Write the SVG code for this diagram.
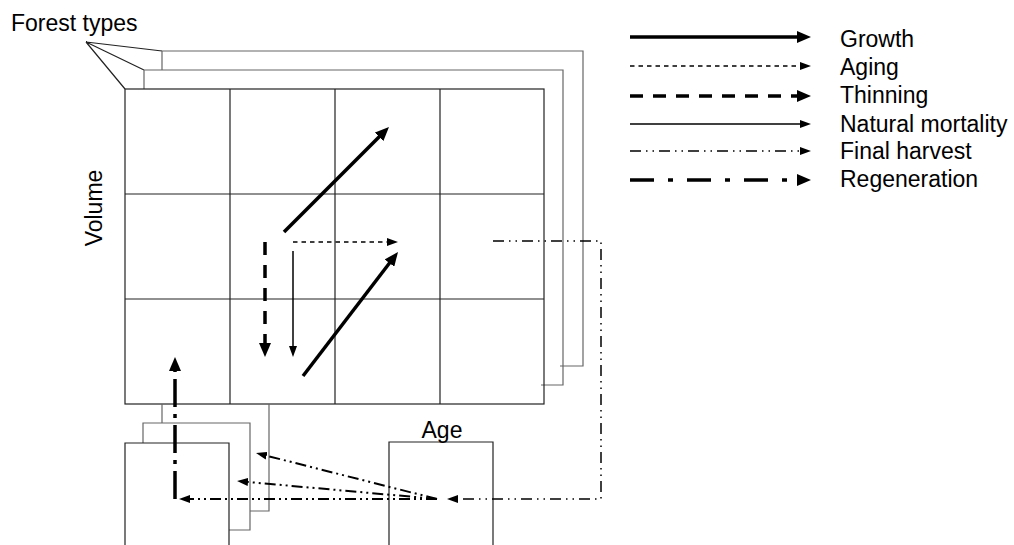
<svg xmlns="http://www.w3.org/2000/svg" width="1014" height="545" viewBox="0 0 1014 545">
<style>
.txt{font-family:"Liberation Sans",Arial,sans-serif;font-size:23px;fill:#000}
.grid{fill:none;stroke:#222;stroke-width:1.2}
.back{fill:none;stroke:#666;stroke-width:1.2}
.growth{fill:none;stroke:#000;stroke-width:3.5}
.aging{fill:none;stroke:#000;stroke-width:1.5;stroke-dasharray:4.5 4}
.thin{fill:none;stroke:#000;stroke-width:3.5;stroke-dasharray:13 10}
.mort{fill:none;stroke:#000;stroke-width:1.5}
.harv{fill:none;stroke:#000;stroke-width:1.5;stroke-dasharray:11 5 1.5 5 1.5 5}
.harv2{fill:none;stroke:#000;stroke-width:2;stroke-dasharray:11 4 2 4 2 4}
.regen{fill:none;stroke:#000;stroke-width:3.5;stroke-dasharray:24 14 5 14}
</style>
<defs>
<marker id="big" markerUnits="userSpaceOnUse" markerWidth="14" markerHeight="12" refX="2" refY="6" orient="auto">
<path d="M0,0 L14,6 L0,12 z" fill="#000"/>
</marker>
<marker id="small" markerUnits="userSpaceOnUse" markerWidth="12" markerHeight="8" refX="1" refY="4" orient="auto">
<path d="M0,0 L11,4 L0,8 z" fill="#000"/>
</marker>
</defs>

<g id="forest-types-label">
<text class="txt" x="11" y="31">Forest types</text>
<path d="M86,42 L125,89 M86,42 L144,70 M86,42 L162,51" fill="none" stroke="#222" stroke-width="1.2"/>
</g>

<g id="layer3">
<path class="back" d="M162,70 V51 H583 V366 H560"/>
</g>
<g id="layer2">
<path class="back" d="M144,89 V70 H563 V385 H541"/>
</g>
<g id="grid">
<rect class="grid" x="125" y="89" width="419" height="315"/>
<path class="grid" d="M230,89 V404 M335,89 V404 M440,89 V404 M125,194 H544 M125,299 H544"/>
</g>

<g id="volume-label">
<text class="txt" x="0" y="0" text-anchor="middle" transform="translate(102,208) rotate(-90)">Volume</text>
</g>

<g id="stack-back">
<path class="back" d="M162,404 V423 M269,404 V511 H250"/>
</g>
<g id="stack-middle">
<path class="back" d="M143,443 V423 H250 V530 H229"/>
</g>
<g id="stack-front">
<path class="grid" d="M125,545 V443 H229 V545"/>
</g>

<g id="age-box">
<path class="grid" d="M389,545 V442 H493 V545"/>
<text class="txt" x="442" y="438" text-anchor="middle">Age</text>
</g>

<g id="connectors">
<line class="growth" x1="284" y1="232" x2="380.5" y2="135.5" marker-end="url(#big)"/>
<line class="growth" x1="303" y1="376" x2="390.7" y2="261.5" marker-end="url(#big)"/>
<line class="aging" x1="293" y1="242" x2="388" y2="242" marker-end="url(#small)"/>
<line class="thin" x1="265" y1="242" x2="265" y2="345" marker-end="url(#big)"/>
<line class="mort" x1="293" y1="251" x2="293" y2="347" marker-end="url(#small)"/>
<path class="harv" d="M493,241 H601 V499 H457" marker-end="url(#small)"/>
<line class="harv2" x1="437" y1="499" x2="265.7" y2="455.5" marker-end="url(#small)"/>
<line class="harv2" x1="437" y1="499" x2="247" y2="481.9" marker-end="url(#small)"/>
<line class="harv2" x1="437" y1="499" x2="189" y2="499" marker-end="url(#small)"/>
<line class="regen" x1="175" y1="499" x2="175" y2="369" style="stroke-dasharray:28 7 4 7" marker-end="url(#big)"/>
</g>

<g id="legend">
<line class="growth" x1="630" y1="37" x2="799" y2="37" marker-end="url(#big)"/>
<text class="txt" x="840" y="46.5">Growth</text>
<line class="aging" x1="630" y1="66" x2="801" y2="66" marker-end="url(#small)"/>
<text class="txt" x="840" y="75">Aging</text>
<line class="thin" x1="630" y1="96" x2="799" y2="96" marker-end="url(#big)"/>
<text class="txt" x="840" y="103">Thinning</text>
<line class="mort" x1="630" y1="124" x2="801" y2="124" marker-end="url(#small)"/>
<text class="txt" x="840" y="131.5">Natural mortality</text>
<line class="harv" x1="630" y1="151" x2="801" y2="151" marker-end="url(#small)"/>
<text class="txt" x="840" y="159">Final harvest</text>
<line class="regen" x1="630" y1="180" x2="799" y2="180" marker-end="url(#big)"/>
<text class="txt" x="840" y="187">Regeneration</text>
</g>
</svg>
